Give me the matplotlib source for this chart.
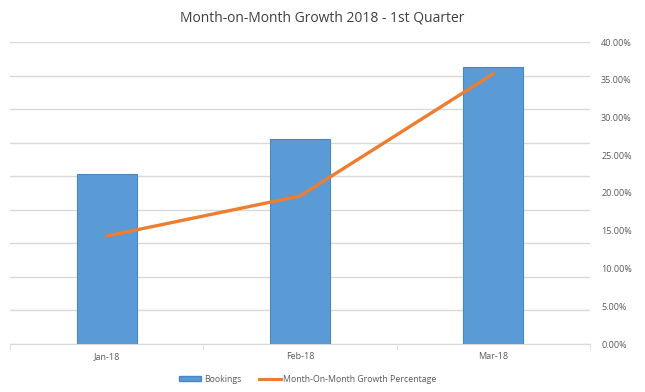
import matplotlib.pyplot as plt
from matplotlib.patches import Patch
from matplotlib.lines import Line2D
from matplotlib.ticker import FuncFormatter

plt.rcParams['font.family'] = ['Open Sans', 'DejaVu Sans']

# data
months = ['Jan-18', 'Feb-18', 'Mar-18']
bookings = [2535, 3055, 4125]          # primary axis is hidden, 0..4500
growth_pct = [14.3, 19.6, 35.8]        # secondary axis, percent

text_col = '#595959'
grid_col = '#D9D9D9'
bar_col = '#5B9BD5'
line_col = '#ED7D31'

fig = plt.figure(figsize=(6.45, 3.92), dpi=100)
ax = fig.add_axes([10/645, 48/392, 580/645, 302/392])

x = list(range(len(months)))
ax.bar(x, bookings, width=0.31, color=bar_col, edgecolor='#4A86C5', linewidth=0.8, zorder=3)
ax.set_xlim(-0.5, 2.5)
ax.set_ylim(0, 4500)
ax.set_yticks(range(0, 4501, 500))
ax.yaxis.grid(True, color=grid_col, linewidth=1)
ax.set_axisbelow(True)
for s in ['top', 'left', 'right']:
    ax.spines[s].set_visible(False)
ax.spines['bottom'].set_color(grid_col)

# category labels centered, tick marks between categories
ax.set_xticks(x)
ax.set_xticklabels(months, fontsize=6.5, color=text_col)
ax.tick_params(axis='x', length=0, pad=6)
ax.set_xticks([-0.5, 0.5, 1.5, 2.5], minor=True)
ax.tick_params(axis='x', which='minor', length=4, color=grid_col)

ax2 = ax.twinx()
ax.tick_params(axis='y', left=False, labelleft=False)
ax2.plot(x, growth_pct, color=line_col, linewidth=2.4, solid_capstyle='round', zorder=4)
ax2.set_ylim(0, 40)
ax2.set_yticks(range(0, 41, 5))
ax2.yaxis.set_major_formatter(FuncFormatter(lambda v, p: f'{v:.2f}%'))
ax2.tick_params(axis='y', length=0, labelsize=6.5, labelcolor=text_col, pad=8)
for s in ax2.spines.values():
    s.set_visible(False)

fig.text(0.5, 1 - 18/392, 'Month-on-Month Growth 2018 - 1st Quarter',
         ha='center', va='center', fontsize=10, color='#404040')

handles = [Patch(facecolor=bar_col, edgecolor='#4A86C5'),
           Line2D([0], [0], color=line_col, linewidth=2.2)]
fig.legend(handles, ['Bookings', 'Month-On-Month Growth Percentage'],
           loc='center', bbox_to_anchor=(308/645, 1 - 379/392), ncol=2, frameon=False,
           fontsize=6.3, labelcolor=text_col, handlelength=2.5, handleheight=0.5,
           columnspacing=2.0, handletextpad=0.3)

fig.savefig('out.png', dpi=100)
